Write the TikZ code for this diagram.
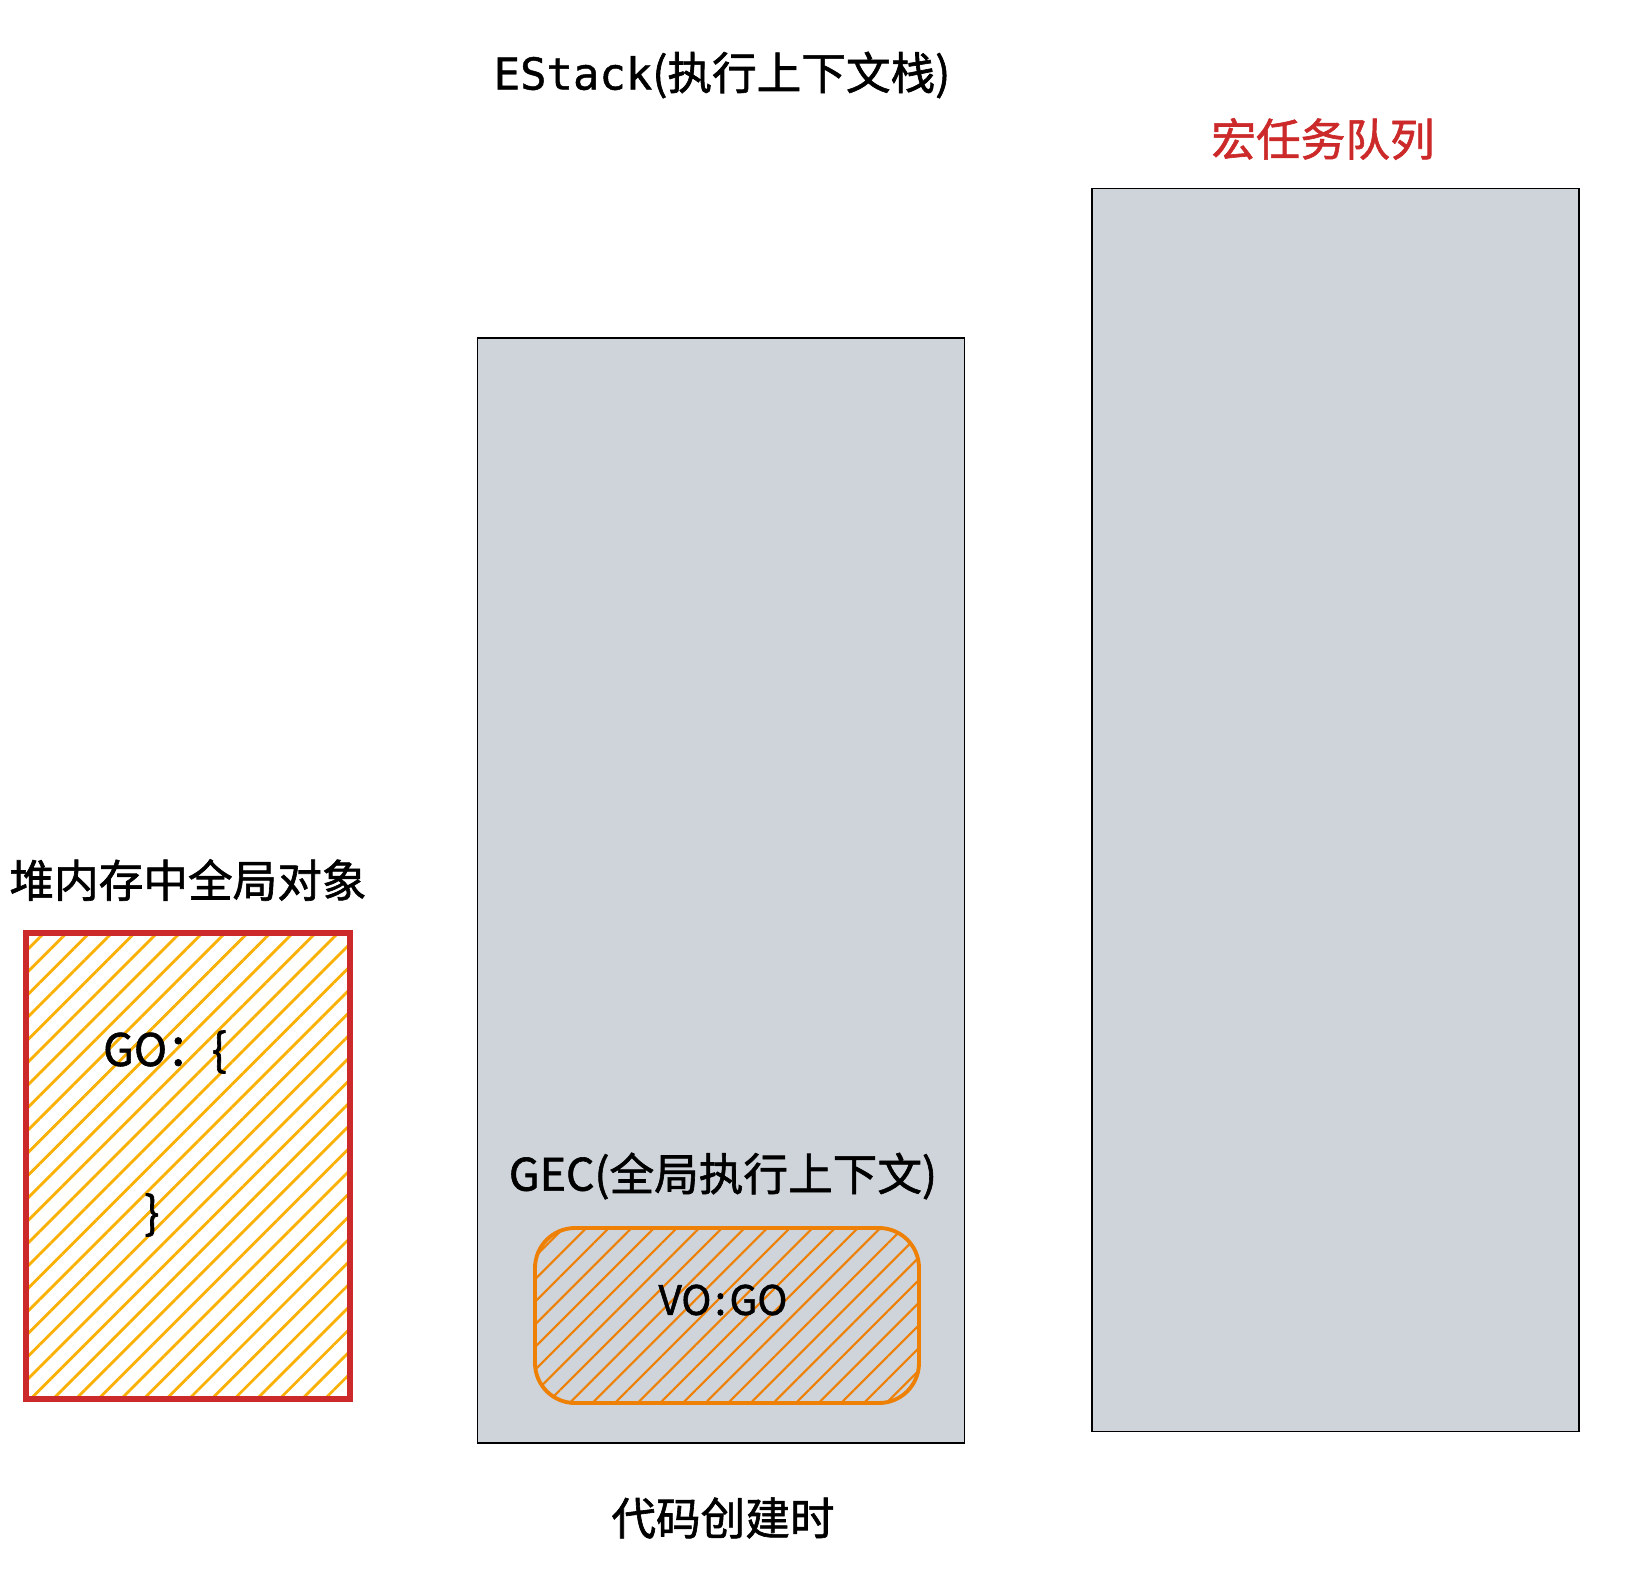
\documentclass[tikz,border=0pt]{standalone}
\usepackage{fontspec}
\setmainfont{Noto Sans CJK SC}[FakeBold=1.4]
\newfontfamily\monofont{DejaVu Sans Mono}[FakeBold=1.0]
\usetikzlibrary{positioning,patterns.meta}
\definecolor{stackgrey}{RGB}{206,212,218}
\definecolor{heapred}{RGB}{204,42,42}
\definecolor{hatchyellow}{RGB}{250,176,5}
\definecolor{voorange}{RGB}{238,128,5}

\begin{document}
\begin{tikzpicture}[
    title/.style={font=\fontsize{12.7}{16}\selectfont, inner sep=0pt},
    column/.style={rectangle, draw=black, line width=0.5pt, fill=stackgrey, inner sep=0pt, minimum width=4.87cm},
    heapbox/.style={rectangle, draw=heapred, line width=1.6pt, inner sep=0pt, minimum width=3.24cm, minimum height=4.66cm,
        pattern={Lines[angle=45,distance=0.16cm,line width=0.8pt]}, pattern color=hatchyellow},
    vobox/.style={rectangle, rounded corners=0.4cm, draw=voorange, line width=1.1pt, inner sep=0pt, minimum width=3.84cm, minimum height=1.75cm,
        pattern={Lines[angle=45,distance=0.16cm,line width=0.6pt]}, pattern color=voorange}
]
    \useasboundingbox (0,0) rectangle (16.42,-15.88);

    % Columns
    \node[column, minimum height=11.05cm] (estack) at (7.21,-8.905) {};
    \node[column, minimum height=12.43cm] (macro) at (13.355,-8.10) {};

    % Heap object
    \node[heapbox] (heap) at (1.88,-11.66) {};
    \node[title, above=0.3cm of heap] (heaplabel) {堆内存中全局对象};
    \node[title] (goopen) at (1.65,-10.52) {GO：\{};
    \node[title] (goclose) at (1.52,-12.15) {\}};

    % Global execution context
    \node[vobox] (vo) at (7.27,-13.155) {};
    \node[title, font=\fontsize{11.5}{16}\selectfont] (volabel) at (7.23,-13.0) {VO\kern1pt:\kern1pt GO};
    \node[title] (gec) at (7.23,-11.76) {GEC(全局执行上下文)};

    % Titles
    \node[title] (estacklabel) at (7.22,-0.75) {{\monofont\fontsize{12.5}{16}\selectfont EStack}(执行上下文栈)};
    \node[title, text=heapred] (macrolabel) at (13.23,-1.39) {宏任务队列};
    \node[title] (timelabel) at (7.23,-15.18) {代码创建时};
\end{tikzpicture}
\end{document}
